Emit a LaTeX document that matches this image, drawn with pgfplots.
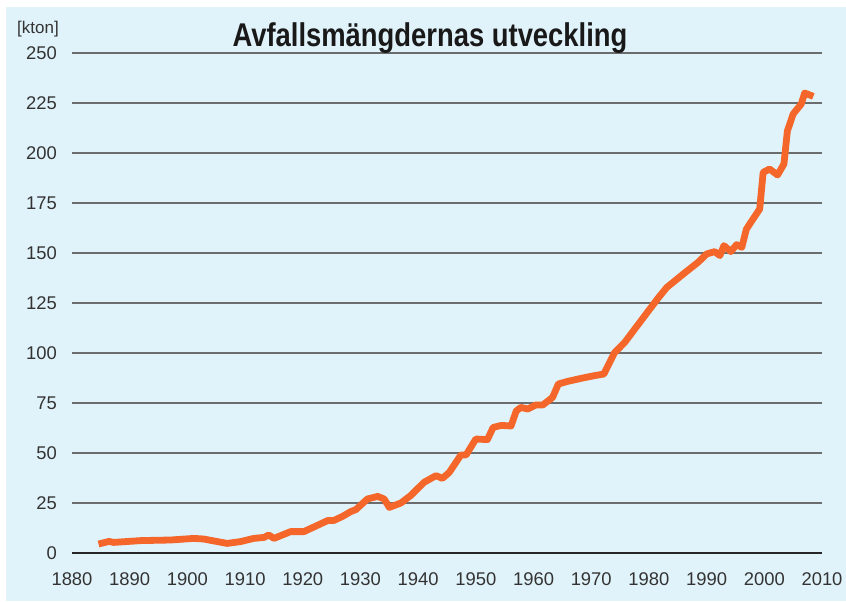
\documentclass[border=0pt]{standalone}
\usepackage{pgfplots}
\pgfplotsset{compat=1.18}
\usepackage{fontspec}
\setmainfont{Liberation Sans}
\usepackage{graphicx}
\definecolor{bgblue}{HTML}{E1F3FA}
\definecolor{gridgray}{HTML}{6A6C6E}
\definecolor{lineorange}{HTML}{F4662A}
\definecolor{textgray}{HTML}{333333}
\begin{document}
\begin{tikzpicture}
% light blue panel behind everything
\fill[bgblue] (-33pt,-24pt) rectangle (387pt,273pt);
\begin{axis}[
    at={(0,0)}, anchor=south west,
    scale only axis,
    width=375pt, height=250pt,
    xmin=1880, xmax=2010,
    ymin=0, ymax=250,
    xtick={1880,1890,...,2010},
    ytick={0,25,...,250},
    axis line style={draw=none},
    tick style={draw=none},
    ymajorgrids,
    grid style={gridgray, line width=0.8pt},
    /pgf/number format/assume math mode=true,
    /pgf/number format/1000 sep={},
    ticklabel style={font=\fontsize{9.2}{10}\selectfont, text=textgray},
    yticklabel style={xshift=-4pt},
    xticklabel style={yshift=-6.5pt},
    clip=false,
]
\addplot[lineorange, line width=3.4pt, line join=round] coordinates {
    (1884.6,4.5) (1886.4,5.8) (1887.2,5.3) (1891.9,6.2) (1897.1,6.5)
    (1901.1,7.3) (1902.8,7.0) (1906.9,4.8) (1909.2,5.7) (1911.5,7.3)
    (1913.3,7.8) (1914.1,9.0) (1915.0,7.3) (1917.9,10.7) (1920.2,10.7)
    (1921.4,12.3) (1924.3,16.2) (1925.4,16.3) (1926.9,18.3) (1928.3,20.7)
    (1929.2,21.7) (1931.2,27.0) (1933.0,28.3) (1934.1,27.0) (1935.0,22.8)
    (1937.0,25.0) (1938.7,28.7) (1941.0,35.3) (1943.1,38.7) (1944.2,37.3)
    (1945.4,40.3) (1947.4,49.0) (1948.3,49.0) (1950.0,57.0) (1952.0,56.7)
    (1953.0,62.8) (1954.4,63.8) (1956.1,63.5) (1957.0,71.0) (1957.8,72.8)
    (1959.0,72.0) (1960.4,74.0) (1961.6,74.0) (1963.3,77.8) (1964.3,84.5)
    (1965.9,85.8) (1968.2,87.3) (1970.6,88.7) (1972.2,89.5) (1974.0,100.0)
    (1975.8,105.3) (1981.6,127.5) (1983.1,132.8) (1986.3,140.3) (1988.5,145.3)
    (1990.0,149.5) (1991.4,150.7) (1992.3,148.7) (1993.0,153.7) (1994.2,150.7)
    (1995.2,154.2) (1996.1,152.8) (1996.9,162.0) (1999.2,172.0) (1999.8,190.3)
    (2000.9,192.0) (2002.3,189.0) (2003.4,194.5) (2004.0,211.0) (2005.0,219.5)
    (2006.4,224.5) (2007.0,230.0) (2008.5,228.3)
};
\end{axis}
% baseline drawn darker, on top of the grid
\draw[black!85, line width=0.9pt] (0,0) -- (375pt,0);
\node[anchor=base, inner sep=0pt, text=black!90] at (179pt,253.5pt)
    {\scalebox{1}[1.2]{\fontsize{13.7}{15}\selectfont\bfseries Avfallsmängdernas utveckling}};
\node[anchor=base, inner sep=0pt, text=textgray] at (-17pt,259.5pt)
    {\fontsize{8.5}{10}\selectfont [kton]};
\pgfresetboundingbox
\path[use as bounding box] (-36pt,-24pt) rectangle (387pt,276.5pt);
\end{tikzpicture}
\end{document}
